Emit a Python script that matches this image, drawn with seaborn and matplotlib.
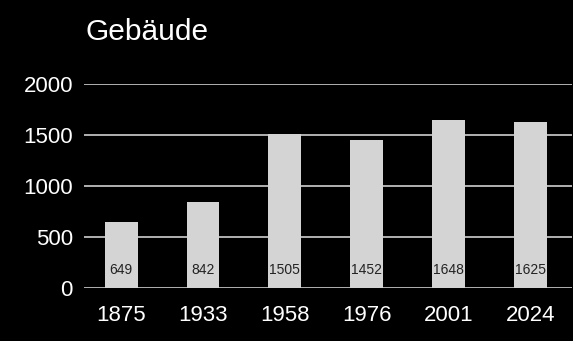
import matplotlib
matplotlib.use("Agg")
import matplotlib.pyplot as plt
import seaborn as sns
import pandas as pd

years = ["1875", "1933", "1958", "1976", "2001", "2024"]
buildings = [649, 842, 1505, 1452, 1648, 1625]
y_ticks = [0, 500, 1000, 1500, 2000]

df = pd.DataFrame({"Jahr": years, "Gebäude": buildings})

sns.set_theme(style="dark")
plt.rcParams["font.family"] = ["Liberation Sans", "DejaVu Sans"]

fig = plt.figure(figsize=(5.73, 3.41), dpi=100, facecolor="black")
ax = fig.add_axes([0.1466, 0.1554, 0.8514, 0.5983])
ax.set_facecolor("black")

ax.set_axisbelow(True)
for t in y_ticks:
    ax.axhline(t, color="#cfcfcf", lw=1.2, zorder=0)

sns.barplot(data=df, x="Jahr", y="Gebäude", color="#d4d4d4", width=0.4,
            saturation=1, linewidth=0, ax=ax, zorder=2)

for i, v in enumerate(buildings):
    ax.text(i, 176, str(v), ha="center", va="center", fontsize=10,
            color="#222222", zorder=3)

ax.set_xlim(-0.455, 5.51)
ax.set_ylim(0, 2000)
ax.set_yticks(y_ticks)
ax.set_xlabel("")
ax.set_ylabel("")
for s in ax.spines.values():
    s.set_visible(False)
ax.grid(False)
ax.tick_params(axis="y", colors="white", labelsize=16, length=0, pad=8)
ax.tick_params(axis="x", colors="white", labelsize=16, length=0, pad=12)

fig.text(0.150, 0.905, "Gebäude", color="white", fontsize=21.5, ha="left", va="center")

fig.savefig("out.png", dpi=100, facecolor="black")
